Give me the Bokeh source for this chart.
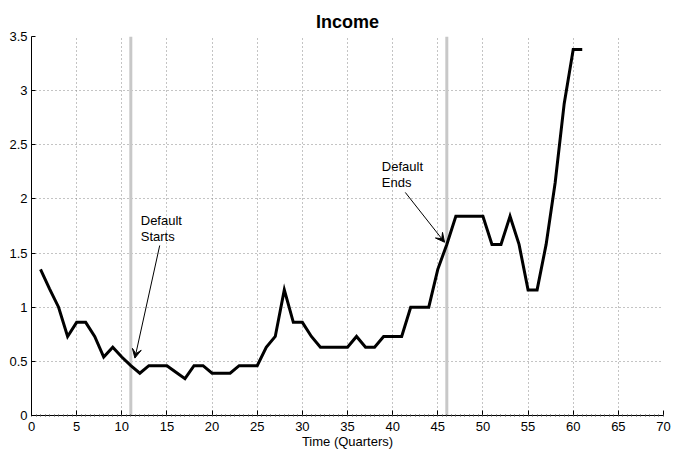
from bokeh.plotting import figure
from bokeh.models import (Range1d, SingleIntervalTicker, NumeralTickFormatter,
                          Arrow, VeeHead, ColumnDataSource)
from bokeh.core.properties import value
from bokeh.embed import file_html
from bokeh.resources import INLINE

# ---- data ----
quarters = list(range(1, 62))
income = [1.35, 1.17, 1.00, 0.73, 0.86, 0.86, 0.73, 0.54, 0.63, 0.54,
          0.46, 0.39, 0.46, 0.46, 0.46, 0.40, 0.34, 0.46, 0.46, 0.39,
          0.39, 0.39, 0.46, 0.46, 0.46, 0.63, 0.73, 1.16, 0.86, 0.86,
          0.73, 0.63, 0.63, 0.63, 0.63, 0.73, 0.63, 0.63, 0.73, 0.73,
          0.73, 1.00, 1.00, 1.00, 1.35, 1.58, 1.84, 1.84, 1.84, 1.84,
          1.58, 1.58, 1.84, 1.58, 1.16, 1.16, 1.58, 2.15, 2.88, 3.38,
          3.38]
default_quarters = [11, 46]

note_x = [12.1, 12.1, 38.8, 38.8]
note_y = [1.80, 1.655, 2.30, 2.155]
note_text = ["Default", "Starts", "Default", "Ends"]

arrow_start_x = [14.2, 41.4]
arrow_start_y = [1.57, 2.06]
arrow_end_x = [11.45, 45.75]
arrow_end_y = [0.53, 1.60]

FONT = "Liberation Sans"

p = figure(width=673, height=456, output_backend="svg", toolbar_location=None,
           x_range=Range1d(0, 70), y_range=Range1d(0, 3.5),
           min_border_left=31, min_border_right=10, min_border_top=36,
           min_border_bottom=41)
p.outline_line_color = None
p.background_fill_color = "white"
p.border_fill_color = "white"

p.title.text = "Income"
p.title.align = "center"
p.title.text_font = FONT
p.title.text_font_size = "18px"
p.title.text_font_style = "bold"
p.title.text_color = "black"

# axes
p.xaxis.ticker = SingleIntervalTicker(interval=5, num_minor_ticks=10)
p.yaxis.ticker = SingleIntervalTicker(interval=0.5, num_minor_ticks=0)
p.yaxis.formatter = NumeralTickFormatter(format="0.[0]")
for ax in (p.xaxis[0], p.yaxis[0]):
    ax.axis_line_color = "black"
    ax.axis_line_width = 1
    ax.major_tick_line_color = "black"
    ax.major_tick_out = 0
    ax.major_label_text_font = FONT
    ax.major_label_text_font_size = "13px"
    ax.major_label_text_color = "black"
p.xaxis.major_tick_in = 5
p.yaxis.major_tick_in = 4
p.xaxis.minor_tick_in = 1
p.xaxis.minor_tick_out = 1
p.xaxis.minor_tick_line_color = "#444444"
p.yaxis.minor_tick_line_color = None
p.xaxis.major_label_standoff = 5
p.yaxis.major_label_standoff = 4
p.xaxis.axis_label = "Time (Quarters)"
p.xaxis.axis_label_text_font = FONT
p.xaxis.axis_label_text_font_size = "13px"
p.xaxis.axis_label_text_font_style = "normal"
p.xaxis.axis_label_text_color = "black"
p.xaxis.axis_label_standoff = 0

# grid
for g in (p.xgrid[0], p.ygrid[0]):
    g.grid_line_color = "#888888"
    g.grid_line_dash = "1 3"
    g.grid_line_width = 1

# default markers
p.segment(x0=default_quarters, y0=[0, 0], x1=default_quarters, y1=[3.5, 3.5],
          line_color="#c8c8c8", line_width=3)

# income line
src = ColumnDataSource(dict(t=quarters, v=income))
p.line("t", "v", source=src, line_color="black", line_width=3,
       line_join="miter")

# annotations
p.text(x=note_x, y=note_y, text=note_text, text_font=value(FONT),
       text_font_size="13px", text_color="black",
       text_baseline="alphabetic", text_align="left")
for xs, ys, xe, ye in zip(arrow_start_x, arrow_start_y, arrow_end_x, arrow_end_y):
    p.add_layout(Arrow(end=VeeHead(size=9, fill_color="black", line_color="black",
                                   line_width=1),
                       x_start=xs, y_start=ys, x_end=xe, y_end=ye,
                       line_color="black", line_width=1))

open("out.html", "w").write(file_html(p, INLINE))
